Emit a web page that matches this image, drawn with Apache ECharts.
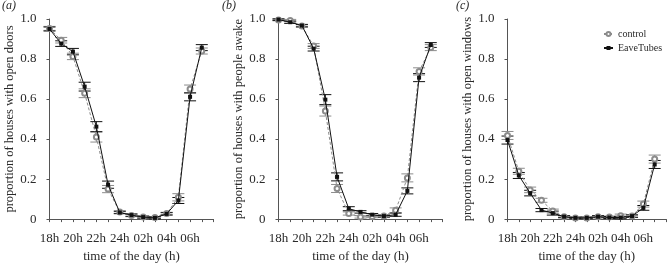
<!DOCTYPE html>
<html>
<head>
<meta charset="utf-8">
<title>houses: open doors, people awake, open windows</title>
<script src="https://cdn.jsdelivr.net/npm/echarts@6/dist/echarts.min.js"></script>
<style>
  html, body { margin: 0; padding: 0; background: #fff; }
  #chart { width: 669px; height: 268px; }
</style>
</head>
<body>
<div id="chart"></div>
<script>
// hour ticks, 18h .. 08h (only even ones labelled, last tick unlabelled)
const hours = ['18h', '19h', '20h', '21h', '22h', '23h', '24h', '01h', '02h', '03h', '04h', '05h', '06h', '07h', '08h'];

// (a) open doors
const doorsControl    = [0.953, 0.894, 0.813, 0.629, 0.410, 0.150, 0.035, 0.018, 0.010, 0.008, 0.028, 0.109, 0.650, 0.840];
const doorsControlErr = [0.010, 0.014, 0.016, 0.022, 0.025, 0.018, 0.006, 0.006, 0.005, 0.005, 0.006, 0.018, 0.020, 0.015];
const doorsEave       = [0.950, 0.877, 0.837, 0.662, 0.462, 0.172, 0.033, 0.020, 0.010, 0.006, 0.026, 0.093, 0.611, 0.857];
const doorsEaveErr    = [0.010, 0.014, 0.016, 0.022, 0.025, 0.018, 0.006, 0.006, 0.005, 0.005, 0.006, 0.015, 0.020, 0.015];

// (b) people awake
const awakeControl    = [0.995, 0.992, 0.965, 0.865, 0.540, 0.153, 0.028, 0.011, 0.013, 0.015, 0.044, 0.206, 0.738, 0.857];
const awakeControlErr = [0.004, 0.006, 0.006, 0.012, 0.025, 0.020, 0.008, 0.006, 0.006, 0.005, 0.012, 0.020, 0.018, 0.015];
const awakeEave       = [0.997, 0.984, 0.967, 0.852, 0.597, 0.211, 0.052, 0.036, 0.022, 0.015, 0.022, 0.141, 0.707, 0.870];
const awakeEaveErr    = [0.004, 0.006, 0.006, 0.012, 0.025, 0.020, 0.010, 0.006, 0.006, 0.005, 0.008, 0.015, 0.020, 0.012];

// (c) open windows
const windowsControl    = [0.418, 0.239, 0.146, 0.094, 0.040, 0.012, 0.006, 0.006, 0.012, 0.010, 0.017, 0.015, 0.075, 0.300];
const windowsControlErr = [0.020, 0.015, 0.014, 0.010, 0.010, 0.005, 0.004, 0.004, 0.005, 0.005, 0.008, 0.006, 0.015, 0.020];
const windowsEave       = [0.395, 0.218, 0.130, 0.045, 0.030, 0.012, 0.006, 0.006, 0.012, 0.008, 0.008, 0.015, 0.056, 0.273];
const windowsEaveErr    = [0.020, 0.015, 0.014, 0.008, 0.010, 0.005, 0.004, 0.004, 0.005, 0.005, 0.006, 0.006, 0.012, 0.020];

const yTicks = [0, 0.2, 0.4, 0.6, 0.8, 1.0];

const panels = [
  { tag: '(a)', yName: 'proportion of houses with open doors',   control: doorsControl,   controlErr: doorsControlErr,   eave: doorsEave,   eaveErr: doorsEaveErr },
  { tag: '(b)', yName: 'proportion of houses with people awake', control: awakeControl,   controlErr: awakeControlErr,   eave: awakeEave,   eaveErr: awakeEaveErr },
  { tag: '(c)', yName: 'proportion of houses with open windows', control: windowsControl, controlErr: windowsControlErr, eave: windowsEave, eaveErr: windowsEaveErr }
];

const FONT = 'Liberation Serif';
const TXT = '#2a2a2a';
const AXIS = '#555';
const GREY = '#8c8c8c';
const DARK = '#111';
const panelStep = 229;

// vertical error bar with caps
function errBars(values, errs, color, idx, name) {
  return {
    type: 'custom',
    name: name,
    xAxisIndex: idx,
    yAxisIndex: idx,
    silent: true,
    clip: false,
    z: 1,
    data: values.map((v, i) => [i, v - errs[i], v + errs[i]]),
    renderItem: function (params, api) {
      const lo = api.coord([api.value(0), api.value(1)]);
      const hi = api.coord([api.value(0), api.value(2)]);
      const w = 6;
      const style = { stroke: color, lineWidth: 1 };
      return {
        type: 'group',
        children: [
          { type: 'line', shape: { x1: lo[0], y1: lo[1], x2: hi[0], y2: hi[1] }, style: style },
          { type: 'line', shape: { x1: lo[0] - w, y1: lo[1], x2: lo[0] + w, y2: lo[1] }, style: style },
          { type: 'line', shape: { x1: hi[0] - w, y1: hi[1], x2: hi[0] + w, y2: hi[1] }, style: style }
        ]
      };
    }
  };
}

const grid = [], xAxis = [], yAxis = [], series = [], graphic = [];

panels.forEach((p, i) => {
  const off = i * panelStep;
  grid.push({ left: 49.5 + off, top: 19, width: 164, height: 205 });
  xAxis.push({
    gridIndex: i,
    type: 'value',
    min: 0,
    max: hours.length - 1,
    interval: 1,
    offset: 8,
    name: 'time of the day (h)',
    nameLocation: 'middle',
    nameGap: 20,
    nameTextStyle: { fontFamily: FONT, fontSize: 13, color: TXT },
    axisLine: { lineStyle: { color: AXIS, width: 1 } },
    axisTick: { length: 3, lineStyle: { color: AXIS } },
    axisLabel: {
      fontFamily: FONT, fontSize: 13, color: TXT, margin: 5,
      formatter: v => (v % 2 === 0 && v < hours.length - 1) ? hours[v] : ''
    },
    splitLine: { show: false }
  });
  yAxis.push({
    gridIndex: i,
    type: 'value',
    min: yTicks[0],
    max: yTicks[yTicks.length - 1],
    interval: 0.2,
    offset: 8,
    name: p.yName,
    nameLocation: 'middle',
    nameGap: 24,
    nameTextStyle: { fontFamily: FONT, fontSize: 12.5, color: TXT },
    axisLine: { show: true, lineStyle: { color: AXIS, width: 1 } },
    axisTick: { show: true, length: 3, lineStyle: { color: AXIS } },
    axisLabel: {
      fontFamily: FONT, fontSize: 13, color: TXT, margin: 5,
      formatter: v => v === 0 ? '0' : v.toFixed(1)
    },
    splitLine: { show: false }
  });

  series.push({
    name: 'control',
    type: 'line',
    xAxisIndex: i, yAxisIndex: i,
    data: p.control.map((v, k) => [k, v]),
    symbol: 'emptyCircle',
    symbolSize: 5,
    clip: false,
    z: 2,
    lineStyle: { color: GREY, width: 1, type: [3, 2] },
    itemStyle: { color: GREY, borderColor: GREY, borderWidth: 1 }
  });
  series.push({
    name: 'EaveTubes',
    type: 'line',
    xAxisIndex: i, yAxisIndex: i,
    data: p.eave.map((v, k) => [k, v]),
    symbol: 'rect',
    symbolSize: 4,
    clip: false,
    z: 3,
    lineStyle: { color: DARK, width: 1 },
    itemStyle: { color: DARK }
  });
  series.push(errBars(p.control, p.controlErr, GREY, i, 'control error'));
  series.push(errBars(p.eave, p.eaveErr, DARK, i, 'EaveTubes error'));

  graphic.push({
    type: 'text',
    left: [2, 222, 456][i],
    top: 0,
    style: { text: p.tag, fontFamily: FONT, fontStyle: 'italic', fontSize: 12, fill: TXT }
  });
});

const chart = echarts.init(document.getElementById('chart'));
chart.setOption({
  animation: false,
  backgroundColor: '#fff',
  grid: grid,
  xAxis: xAxis,
  yAxis: yAxis,
  series: series,
  graphic: graphic,
  legend: {
    data: ['control', 'EaveTubes'],
    orient: 'vertical',
    left: 603,
    top: 29,
    padding: 0,
    itemWidth: 9,
    itemHeight: 5,
    itemGap: 4,
    textStyle: { fontFamily: FONT, fontSize: 10, color: TXT }
  }
});
</script>
</body>
</html>
